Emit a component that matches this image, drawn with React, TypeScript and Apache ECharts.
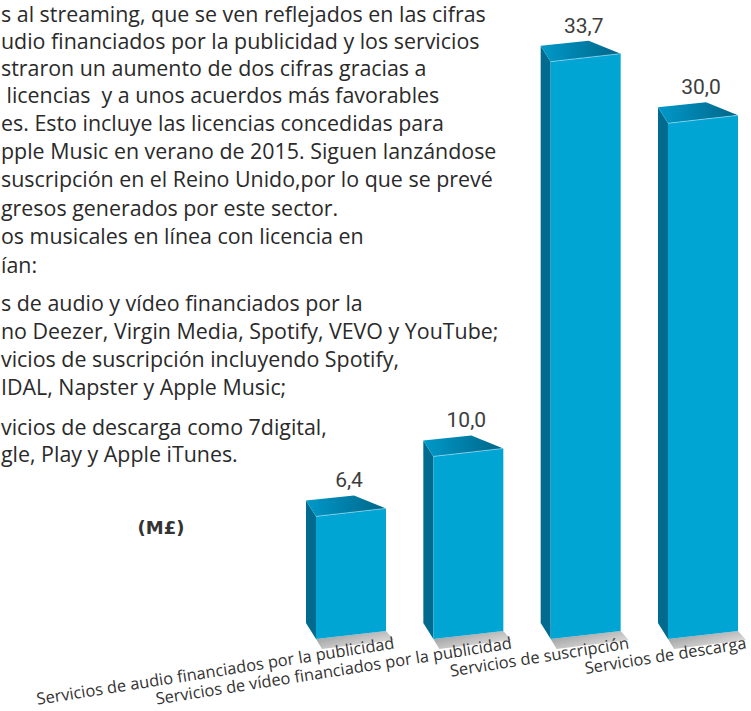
import React, { useEffect, useRef } from 'react';
import * as echarts from 'echarts';

const categories = [
  'Servicios de audio financiados por la publicidad',
  'Servicios de vídeo financiados por la publicidad',
  'Servicios de suscripción',
  'Servicios de descarga',
];
const values = [6.4, 10.0, 33.7, 30.0];

const paragraphLines = [
  's al streaming, que se ven reflejados en las cifras',
  'udio financiados por la publicidad y los servicios',
  'straron un aumento de dos cifras gracias a',
  ' licencias  y a unos acuerdos más favorables',
  'es. Esto incluye las licencias concedidas para',
  'pple Music en verano de 2015. Siguen lanzándose',
  'suscripción en el Reino Unido,por lo que se prevé',
  'gresos generados por este sector.',
  'os musicales en línea con licencia en',
  'ían:',
  's de audio y vídeo financiados por la',
  'no Deezer, Virgin Media, Spotify, VEVO y YouTube;',
  'vicios de suscripción incluyendo Spotify,',
  'IDAL, Napster y Apple Music;',
  'vicios de descarga como 7digital,',
  'gle, Play y Apple iTunes.',
];
const paragraphY = [13, 40, 67, 94, 122, 150, 178, 207, 235, 264, 302, 330, 358, 386, 426, 453];
const unitLabel = '(M£)';

const fmt = (v: number) => v.toFixed(1).replace('.', ',');

export default function App() {
  const ref = useRef<HTMLDivElement>(null);
  useEffect(() => {
    const chart = echarts.init(ref.current!, null, { renderer: 'svg' });
    const FW = 70; // front face width
    const SK = -8; // slope of top edge
    const FLOOR = 16;

    const graphic: any[] = paragraphLines.map((t, i) => ({
      type: 'text',
      x: 1,
      y: paragraphY[i],
      style: {
        text: t,
        fontSize: 21.4,
        fontFamily: 'Open Sans',
        fill: '#2a2a2a',
        verticalAlign: 'middle',
        align: 'left',
      },
    }));
    graphic.push({
      type: 'text',
      x: 161,
      y: 527,
      style: {
        text: unitLabel,
        fontSize: 18,
        fontWeight: 'bold',
        fontFamily: 'DejaVu Sans',
        fill: '#333',
        align: 'center',
        verticalAlign: 'middle',
      },
    });

    chart.setOption({
      animation: false,
      grid: { left: 351, right: 48, top: 0, bottom: 88 },
      xAxis: { type: 'category', data: categories, boundaryGap: false, show: false },
      yAxis: { type: 'value', min: 0, max: 37.4, show: false },
      graphic,
      series: [
        {
          type: 'custom',
          data: values.map((v, i) => [i, v]),
          renderItem: (params: any, api: any) => {
            const i = api.value(0);
            const v = api.value(1);
            const top = api.coord([i, v]);
            const base = api.coord([i, 0]);
            const xL = top[0] - FW / 2;
            const yT = top[1];
            const yB = base[1] + FLOOR;
            return {
              type: 'group',
              children: [
                {
                  type: 'polygon',
                  shape: { points: [[xL, yB], [xL + FW, yB + SK], [xL + FW + 8, yB + 1], [xL + 6, yB + 10]] },
                  style: {
                    fill: new echarts.graphic.LinearGradient(0, 0, 1, 1, [
                      { offset: 0, color: '#8f8f8f' },
                      { offset: 1, color: '#f2f2f2' },
                    ]),
                  },
                },
                {
                  type: 'polygon',
                  shape: { points: [[xL - 10, yT - 16], [xL, yT], [xL, yB], [xL - 10, yB - 16]] },
                  style: { fill: '#006b8f' },
                },
                {
                  type: 'polygon',
                  shape: { points: [[xL, yT], [xL + FW, yT + SK], [xL + FW, yB + SK], [xL, yB]] },
                  style: { fill: '#00a5d4' },
                },
                {
                  type: 'polygon',
                  shape: { points: [[xL, yT], [xL + FW, yT + SK], [xL + 38, yT - 21], [xL - 10, yT - 16]] },
                  style: {
                    fill: new echarts.graphic.LinearGradient(0, 0, 1, 0, [
                      { offset: 0, color: '#0099ca' },
                      { offset: 1, color: '#006587' },
                    ]),
                  },
                },
                {
                  type: 'polyline',
                  shape: { points: [[xL, yT], [xL + FW, yT + SK]] },
                  style: { stroke: 'rgba(160,225,245,0.8)', lineWidth: 0.8, fill: 'none' },
                },
                {
                  type: 'text',
                  x: xL + 33,
                  y: yT - 36,
                  style: {
                    text: fmt(v),
                    fontSize: 21,
                    fontFamily: 'Roboto',
                    fill: '#3d3d3d',
                    align: 'center',
                    verticalAlign: 'middle',
                  },
                },
                {
                  type: 'text',
                  x: xL + FW + 8,
                  y: yB + 3,
                  rotation: (9 * Math.PI) / 180,
                  style: {
                    text: categories[i],
                    fontSize: 16.4,
                    fontFamily: 'Open Sans',
                    fill: '#333',
                    align: 'right',
                    verticalAlign: 'middle',
                  },
                },
              ],
            };
          },
        },
      ],
    });
    return () => chart.dispose();
  }, []);
  return <div ref={ref} style={{ position: 'absolute', left: 0, top: 0, width: 751, height: 711 }} />;
}
